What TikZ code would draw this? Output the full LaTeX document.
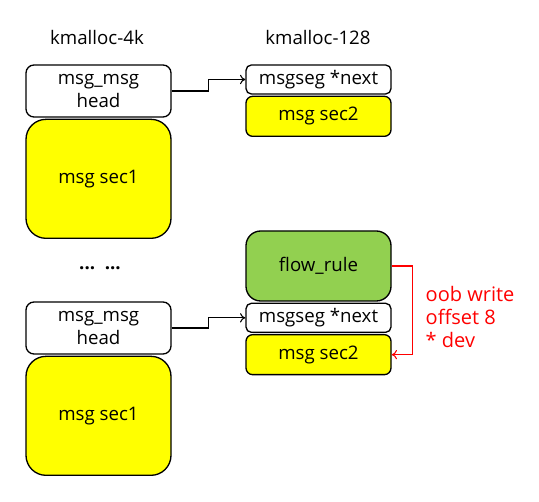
\documentclass[tikz,border=0pt]{standalone}
\usepackage{fontspec}
\setmainfont{Open Sans}
\usetikzlibrary{positioning, arrows.meta}
\definecolor{secyellow}{RGB}{255,255,0}
\definecolor{rulegreen}{RGB}{146,208,80}
\definecolor{oobred}{RGB}{255,0,0}
\tikzstyle{cell} = [rectangle, draw, line width=1pt, minimum width=108.75pt, inner sep=0pt, text centered, align=center]
\tikzstyle{headcell} = [cell, fill=white, minimum height=39pt, rounded corners=6pt, font=\fontsize{14}{17}\selectfont]
\tikzstyle{sec1cell} = [cell, fill=secyellow, minimum height=89.25pt, rounded corners=15pt]
\tikzstyle{segcell} = [cell, fill=white, minimum height=21.75pt, rounded corners=4pt]
\tikzstyle{sec2cell} = [cell, fill=secyellow, minimum height=30pt, rounded corners=5pt]
\tikzstyle{rulecell} = [cell, fill=rulegreen, minimum height=52.5pt, rounded corners=11pt]
\tikzstyle{link} = [draw, line width=0.8pt, -{To[length=4pt,width=7pt]}]
\tikzstyle{oob} = [draw, oobred, line width=0.8pt, -{To[length=4pt,width=7pt]}]

\begin{document}
\begin{tikzpicture}[x=0.75pt, y=0.75pt, node distance=0.75pt, font=\fontsize{14}{15.5}\selectfont]
    \useasboundingbox (0,0) rectangle (539,502);

    % slab names
    \node (slab4k) at (97,464) {kmalloc-4k};
    \node (slab128) at (318,464) {kmalloc-128};

    % first msg_msg
    \node[headcell] (head1) at (98.5,411) {msg\_msg\\head};
    \node[sec1cell, below=of head1] (sec1a) {msg sec1};
    \node[segcell] (seg1) at (318.5,422.5) {msgseg *next};
    \node[sec2cell, below=of seg1] (sec2a) {msg sec2};

    \node (dots) at (100,234) {\textbf{...\ \ ...}};

    % second msg_msg, next to flow_rule
    \node[headcell] (head2) at (98.5,174) {msg\_msg\\head};
    \node[sec1cell, below=of head2] (sec1b) {msg sec1};
    \node[rulecell] (flow) at (318.5,236) {flow\_rule};
    \node[segcell, below=of flow] (seg2) {msgseg *next};
    \node[sec2cell, below=of seg2] (sec2b) {msg sec2};

    \path[link] (head1.east) -- ++(37,0) |- (seg1.west);
    \path[link] (head2.east) -- ++(37,0) |- (seg2.west);
    \path[oob] (flow.east) -- ++(21,0) |- (sec2b.east);

    \node[oobred, anchor=west, align=left, font=\fontsize{15}{17.6}\selectfont] (oobtext) at (421,185) {oob write\\offset 8\\* dev};
\end{tikzpicture}
\end{document}
